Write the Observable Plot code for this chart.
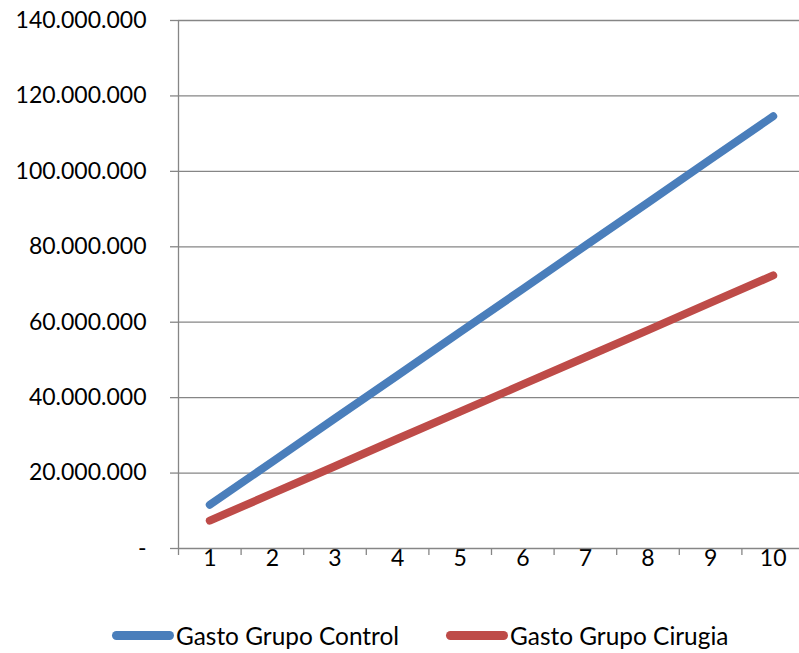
<!DOCTYPE html>
<html>
<head>
<meta charset="utf-8">
<script src="https://cdn.jsdelivr.net/npm/d3@7"></script>
<script src="https://cdn.jsdelivr.net/npm/@observablehq/plot@0.6"></script>
<style>
  html, body { margin: 0; padding: 0; background: #fff; }
  #chart { width: 799px; height: 653px; position: relative; font-family: Lato, "Open Sans", sans-serif; }
  #legend { position: absolute; left: 0; top: 617px; height: 36px; width: 799px; display: flex; align-items: center; padding-left: 112px; box-sizing: border-box; font-size: 24.4px; color: #000; }
  .item { display: flex; align-items: center; margin-right: 47px; }
  .sw { width: 62px; height: 9px; border-radius: 5px; margin-right: 2px; }
</style>
</head>
<body>
<div id="chart"><div id="legend"></div></div>
<script>
const years = [1, 2, 3, 4, 5, 6, 7, 8, 9, 10];
const gastoControl = [11.6e6, 23.0e6, 34.5e6, 45.9e6, 57.4e6, 68.8e6, 80.3e6, 91.7e6, 103.2e6, 114.6e6];
const gastoCirugia = [7.4e6, 14.6e6, 21.8e6, 29.1e6, 36.3e6, 43.5e6, 50.7e6, 57.9e6, 65.2e6, 72.4e6];
const seriesNames = ["Gasto Grupo Control", "Gasto Grupo Cirugia"];
const seriesColors = ["#4A7EBB", "#BE4B48"];
const yTicks = [0, 20e6, 40e6, 60e6, 80e6, 100e6, 120e6, 140e6];

const data = [];
years.forEach((y, i) => {
  data.push({year: y, value: gastoControl[i], series: seriesNames[0]});
  data.push({year: y, value: gastoCirugia[i], series: seriesNames[1]});
});
const boundaries = [years[0] - 0.5, ...years.map(y => y + 0.5)];

const fmt = d => d === 0 ? "-" : d3.format(",")(d).replace(/,/g, ".");
const grid = "#868686";

const plot = Plot.plot({
  width: 799,
  height: 615,
  marginTop: 20,
  marginBottom: 67,
  marginLeft: 178,
  marginRight: 0,
  style: {fontFamily: "Lato, 'Open Sans', sans-serif", fontSize: "23px", color: "#000", background: "#fff"},
  x: {type: "linear", domain: [boundaries[0], boundaries[boundaries.length - 1]], range: [178, 804]},
  y: {domain: [0, 140e6]},
  color: {domain: seriesNames, range: seriesColors},
  marks: [
    Plot.ruleY(yTicks.slice(1), {y: d => d, stroke: grid, strokeWidth: 1.3}),
    Plot.axisY(yTicks, {tickSize: 8, tickPadding: 24, tickFormat: fmt, stroke: grid, strokeWidth: 1.3, fill: "#000", label: null}),
    Plot.axisX(boundaries, {tickSize: 7, tickFormat: () => "", stroke: grid, strokeWidth: 1.3, label: null}),
    Plot.axisX(years, {tickSize: 0, tickPadding: 1, tickFormat: d => String(d), fill: "#000", label: null}),
    Plot.ruleX([boundaries[0]], {stroke: grid, strokeWidth: 1.3, y1: 0, y2: 140e6}),
    Plot.ruleY([0], {stroke: grid, strokeWidth: 1.3}),
    Plot.line(data, {x: "year", y: "value", z: "series", stroke: "series", strokeWidth: 8, strokeLinecap: "round", strokeLinejoin: "round"})
  ]
});
plot.style.position = "absolute";
plot.style.left = "0";
plot.style.top = "0";
document.getElementById("chart").prepend(plot);

const legend = document.getElementById("legend");
seriesNames.forEach((n, i) => {
  const it = document.createElement("div");
  it.className = "item";
  const sw = document.createElement("div");
  sw.className = "sw";
  sw.style.background = seriesColors[i];
  const t = document.createElement("span");
  t.textContent = n;
  it.append(sw, t);
  legend.append(it);
});
</script>
</body>
</html>
